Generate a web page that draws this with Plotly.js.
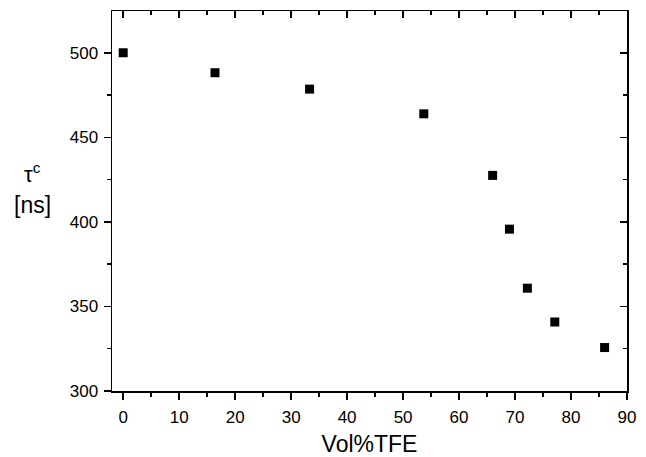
<!DOCTYPE html>
<html>
<head>
<meta charset="utf-8">
<script src="https://cdn.plot.ly/plotly-3.0.1.min.js"></script>
<style>html,body{margin:0;padding:0;background:#fff;}#chart{width:646px;height:457px;}</style>
</head>
<body>
<div id="chart"></div>
<script>
const volTFE = [0, 16.4, 33.3, 53.7, 66.0, 69.0, 72.2, 77.1, 86.0];
const tauC = [500, 488.2, 478.5, 463.9, 427.5, 395.7, 360.8, 340.8, 325.7];
const xTitle = "Vol%TFE";
const yTitleLine1 = "τ<sup>c</sup>";
const yTitleLine2 = "[ns]";

const FONT = "Liberation Sans, Arial, sans-serif";

const traces = [
  {
    x: volTFE, y: tauC, type: "scatter", mode: "markers",
    marker: {symbol: "square", size: 9, color: "#000"},
    showlegend: false, hoverinfo: "x+y"
  },
  {
    x: volTFE, y: tauC, xaxis: "x2", yaxis: "y2", type: "scatter", mode: "markers",
    marker: {size: 0, opacity: 0}, showlegend: false, hoverinfo: "skip"
  }
];

const axCommon = {
  showgrid: false, zeroline: false, showline: true, linecolor: "#000", linewidth: 1.5,
  tickcolor: "#000", tickwidth: 1.5, ticklen: 7,
  tickfont: {family: FONT, size: 17, color: "#000"}
};

const layout = {
  width: 646, height: 457,
  margin: {l: 112, r: 19, t: 11, b: 66},
  paper_bgcolor: "#fff", plot_bgcolor: "#fff",
  font: {family: FONT, color: "#000"},
  xaxis: Object.assign({}, axCommon, {
    range: [-2, 90], tick0: 0, dtick: 10, ticks: "outside", ticklabelstandoff: 3,
    minor: {dtick: 5, ticklen: 4, tickwidth: 1.5, tickcolor: "#000", ticks: "outside"},
    title: {text: xTitle, font: {family: FONT, size: 23, color: "#000"}, standoff: 12}
  }),
  yaxis: Object.assign({}, axCommon, {
    range: [300, 524.7], tick0: 300, dtick: 50, ticks: "outside", ticklabelstandoff: 2,
    minor: {dtick: 25, ticklen: 4, tickwidth: 1.5, tickcolor: "#000", ticks: "outside"}
  }),
  xaxis2: Object.assign({}, axCommon, {
    overlaying: "x", side: "top",
    range: [-2, 90], tick0: 0, dtick: 10, ticks: "inside", showticklabels: false,
    minor: {dtick: 5, ticklen: 4, tickwidth: 1.5, tickcolor: "#000", ticks: "inside"}
  }),
  yaxis2: Object.assign({}, axCommon, {
    overlaying: "y", side: "right",
    range: [300, 524.7], tick0: 300, dtick: 50, ticks: "inside", showticklabels: false,
    minor: {dtick: 25, ticklen: 4, tickwidth: 1.5, tickcolor: "#000", ticks: "inside"}
  }),
  annotations: [
    {text: yTitleLine1, xref: "paper", yref: "paper", x: -0.155, y: 0.575,
     xanchor: "center", yanchor: "middle", showarrow: false,
     font: {family: FONT, size: 22, color: "#000"}},
    {text: yTitleLine2, xref: "paper", yref: "paper", x: -0.155, y: 0.49,
     xanchor: "center", yanchor: "middle", showarrow: false,
     font: {family: FONT, size: 23, color: "#000"}}
  ]
};

Plotly.newPlot("chart", traces, layout, {displayModeBar: false, staticPlot: true});
</script>
</body>
</html>
